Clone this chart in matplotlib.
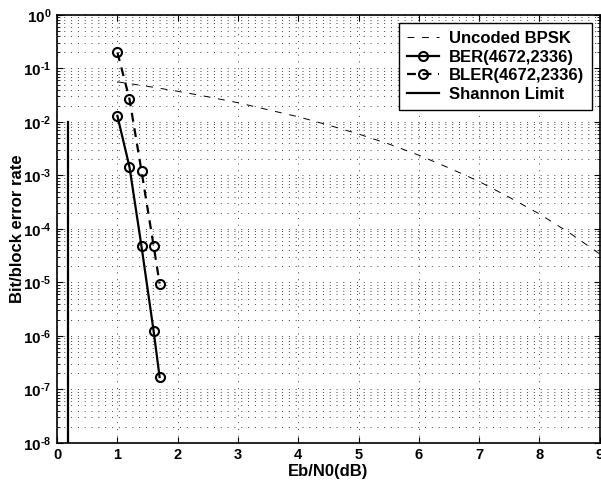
import numpy as np
import matplotlib
matplotlib.use("Agg")
import matplotlib.pyplot as plt
from matplotlib.ticker import LogLocator, NullFormatter

plt.rcParams["font.family"] = "Liberation Sans"
plt.rcParams["font.weight"] = "bold"
plt.rcParams["mathtext.fontset"] = "custom"
plt.rcParams["mathtext.rm"] = "Liberation Sans:bold"
plt.rcParams["mathtext.bf"] = "Liberation Sans:bold"

# uncoded BPSK curve
bpsk_ebn0 = [1.0, 1.5, 2.0, 2.5, 3.0, 3.5, 4.0, 4.5, 5.0, 5.5, 6.0, 6.5, 7.0, 7.5, 8.0, 8.5, 9.0]
bpsk_ber = [5.63e-2, 4.64e-2, 3.75e-2, 2.96e-2, 2.29e-2, 1.69e-2, 1.25e-2, 8.73e-3,
            5.95e-3, 3.88e-3, 2.39e-3, 1.38e-3, 7.7e-4, 3.9e-4, 1.9e-4, 8.4e-5, 3.4e-5]

# coded results (4672,2336)
code_ebn0 = [1.0, 1.2, 1.4, 1.6, 1.7]
ber = [1.3e-2, 1.45e-3, 4.7e-5, 1.25e-6, 1.7e-7]
bler_ebn0 = [1.0, 1.2, 1.4, 1.6, 1.7]
bler = [2.0e-1, 2.7e-2, 1.2e-3, 4.9e-5, 9.5e-6]

# Shannon limit for rate 1/2
shannon_x = [0.18, 0.18]
shannon_y = [1e-8, 1e-2]

x_ticks = list(range(0, 10))
y_exps = list(range(-8, 1))

fig = plt.figure(figsize=(6.01, 4.84), dpi=100)
ax = fig.add_axes([0.095, 0.085, 0.903, 0.884])

ax.semilogy(bpsk_ebn0, bpsk_ber, "k--", lw=0.7, dashes=(7, 8), label="Uncoded BPSK")
ax.semilogy(code_ebn0, ber, "k-o", lw=1.6, ms=6.5, mew=1.5, mfc="none", label="BER(4672,2336)")
ax.semilogy(bler_ebn0, bler, "k--o", lw=1.6, ms=6.5, mew=1.5, mfc="none", dashes=(4, 3),
            label="BLER(4672,2336)")
ax.semilogy(shannon_x, shannon_y, "k-", lw=1.6, label="Shannon Limit")

ax.set_xlim(0, 9)
ax.set_ylim(1e-8, 1)
ax.set_xticks(x_ticks)
ax.set_xticklabels([str(v) for v in x_ticks], fontsize=10.5, fontweight="bold")
ax.set_yticks([10.0 ** e for e in y_exps])
ylabels = []
for e in y_exps:
    if e < 0:
        ylabels.append(r"$\mathbf{10^{\text{-}%d}}$" % -e)
    else:
        ylabels.append(r"$\mathbf{10^{%d}}$" % e)
ax.set_yticklabels(ylabels, fontsize=11)
ax.yaxis.set_minor_locator(LogLocator(base=10, subs=np.arange(2, 10), numticks=20))
ax.yaxis.set_minor_formatter(NullFormatter())

ax.tick_params(which="both", direction="in", top=True, right=True)
ax.tick_params(which="major", length=4, width=0.8, pad=4)
ax.tick_params(which="minor", length=2, width=0.6)
for s in ax.spines.values():
    s.set_linewidth(1.2)

ax.grid(True, which="major", color="0.25", ls=(0, (1, 6)), lw=0.7)
ax.grid(True, which="minor", axis="y", color="0.25", ls=(0, (1, 6)), lw=0.7)

ax.set_xlabel("Eb/N0(dB)", fontsize=12, fontweight="bold", labelpad=1)
ax.set_ylabel("Bit/block error rate", fontsize=12, fontweight="bold")
ax.yaxis.set_label_coords(-0.06, 0.5)

leg = ax.legend(loc="upper right", fontsize=12, fancybox=False, framealpha=1,
                edgecolor="k", handlelength=1.9, handletextpad=0.6, borderaxespad=0.45,
                labelspacing=0.22, borderpad=0.5)
leg.get_frame().set_linewidth(1.0)
for t in leg.get_texts():
    t.set_fontweight("bold")

fig.savefig("out.png", dpi=100)
